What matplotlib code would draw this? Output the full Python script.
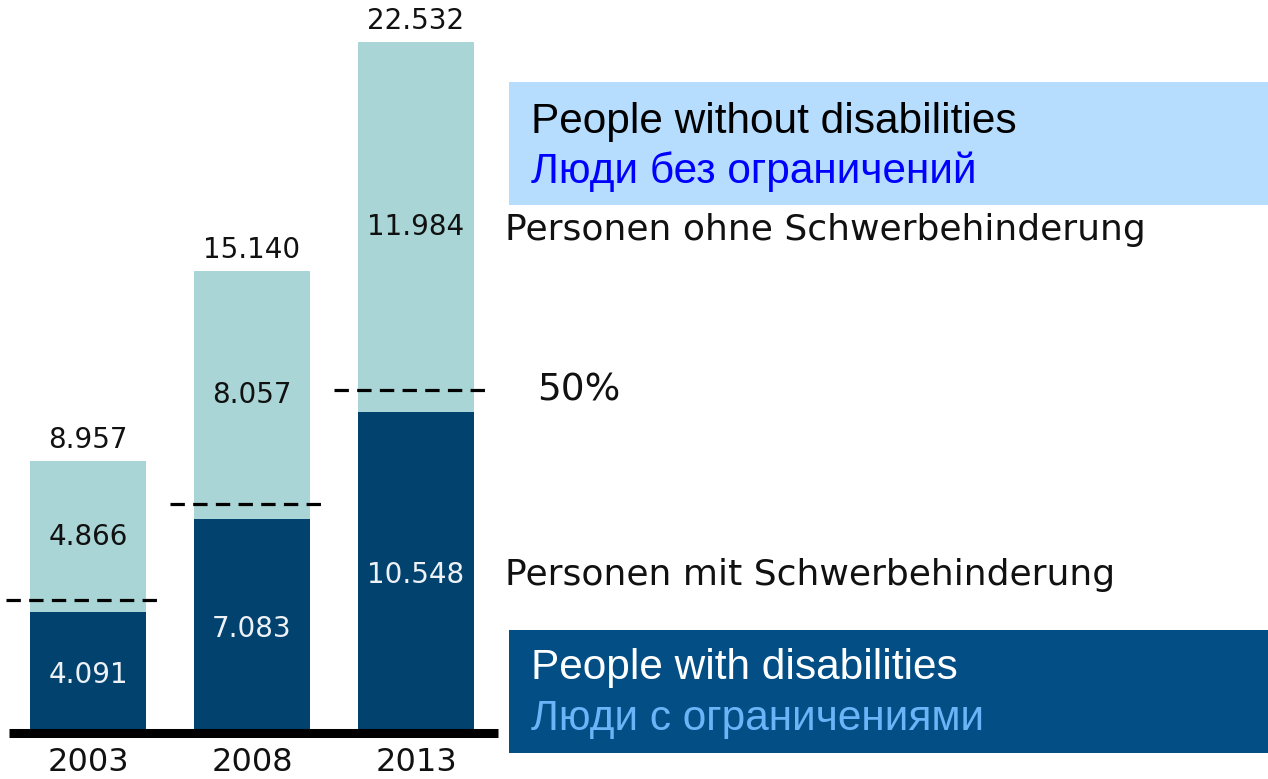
import matplotlib
matplotlib.use("Agg")
import matplotlib.pyplot as plt
from matplotlib.patches import Rectangle
import numpy as np

# data (thousands, German number format in labels)
years = ["2003", "2008", "2013"]
with_dis = [4091, 7083, 10548]
without_dis = [4866, 8057, 11984]
totals = [8957, 15140, 22532]

DARK = "#02426f"
LIGHT = "#a9d5d6"
W, H = 1268, 779


def fmt(v):
    return f"{v:,}".replace(",", ".")


def px(x, y):
    # pixel coords (from top-left) -> figure fraction
    return x / W, 1 - y / H


fig = plt.figure(figsize=(W / 100, H / 100), dpi=100)
ax = fig.add_axes([0, 0, 1, 1])
ax.set_xlim(-88 / 164, (W - 88) / 164)
ax.set_ylim(-41 / 0.03087, (H - 41) / 0.03087)
ax.axis("off")

x = np.arange(len(years))
ax.bar(x, with_dis, width=0.713, color=DARK, zorder=2)
ax.bar(x, without_dis, width=0.713, bottom=with_dis, color=LIGHT, zorder=2)

num_font = dict(family="DejaVu Sans", fontsize=20)
for i in range(len(years)):
    ax.text(x[i], with_dis[i] / 2, fmt(with_dis[i]), ha="center", va="center",
            color="#eef2f6", zorder=3, **num_font)
    ax.text(x[i], with_dis[i] + without_dis[i] / 2, fmt(without_dis[i]),
            ha="center", va="center", color="#111111", zorder=3, **num_font)
    ax.annotate(fmt(totals[i]), (x[i], totals[i]), xytext=(0, 7),
                textcoords="offset pixels", ha="center", va="bottom",
                color="#111111", **num_font)
    # 50% marker
    ax.hlines(totals[i] / 2, x[i] - 0.5, x[i] + 0.44, colors="black",
              linewidth=2.3, linestyles=(0, (4.5, 2.6)), zorder=4)

# baseline
ax.hlines(150, -0.48, 2.5, colors="black", linewidth=6.5, zorder=5)

for i, yr in enumerate(years):
    xf, _ = px(88 + 164 * i, 0)
    fig.text(xf, px(0, 778)[1], yr, ha="center", va="bottom",
             family="DejaVu Sans", fontsize=23, color="#111111")

# German labels on the right
fig.text(*px(505, 230), "Personen ohne Schwerbehinderung", ha="left", va="center",
         family="DejaVu Sans", fontsize=26, color="#111111")
fig.text(*px(505, 575), "Personen mit Schwerbehinderung", ha="left", va="center",
         family="DejaVu Sans", fontsize=26, color="#111111")
fig.text(*px(537, 391), "50%", ha="left", va="center",
         family="DejaVu Sans", fontsize=27, color="#111111")

# legend boxes
narrow = ["Liberation Sans Narrow", "Liberation Sans", "DejaVu Sans"]
x0, y0 = px(509, 205)
fig.patches.append(Rectangle((x0, y0), 1 - x0, 123 / H, transform=fig.transFigure,
                             facecolor="#b6dcfe", edgecolor="none", figure=fig))
fig.text(*px(531, 122), "People without disabilities", ha="left", va="center",
         family=narrow, fontsize=30.5, color="black")
fig.text(*px(531, 172), "Люди без ограничений", ha="left", va="center",
         family=narrow, fontsize=30.5, color="#0000ff")

x0, y0 = px(509, 753)
fig.patches.append(Rectangle((x0, y0), 1 - x0, 123 / H, transform=fig.transFigure,
                             facecolor="#034f85", edgecolor="none", figure=fig))
fig.text(*px(531, 668), "People with disabilities", ha="left", va="center",
         family=narrow, fontsize=30.5, color="white")
fig.text(*px(531, 719), "Люди с ограничениями", ha="left", va="center",
         family=narrow, fontsize=30.5, color="#6cb4f8")

fig.savefig("out.png", dpi=100)
